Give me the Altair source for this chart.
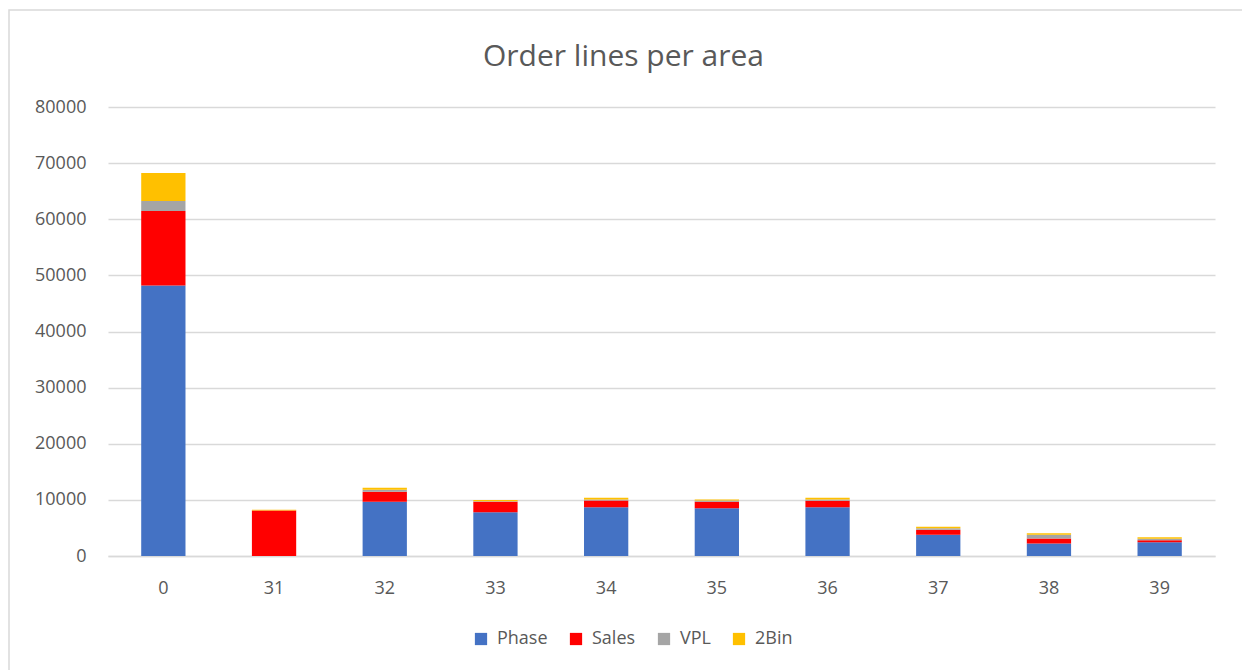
import altair as alt
import pandas as pd

areas = ["0", "31", "32", "33", "34", "35", "36", "37", "38", "39"]
series = ["Phase", "Sales", "VPL", "2Bin"]
colors = ["#4472C4", "#FF0000", "#A5A5A5", "#FFC000"]
phase = [48200, 0, 9660, 7810, 8700, 8520, 8700, 3780, 2230, 2460]
sales = [13260, 8100, 1780, 1850, 1190, 1140, 1140, 890, 890, 360]
vpl = [1780, 0, 360, 100, 180, 230, 230, 290, 660, 250]
bin2 = [5000, 150, 350, 200, 300, 180, 300, 240, 290, 280]
y_ticks = [0, 10000, 20000, 30000, 40000, 50000, 60000, 70000, 80000]

rows = []
for i, a in enumerate(areas):
    for k, (s, vals) in enumerate(zip(series, [phase, sales, vpl, bin2])):
        rows.append({"area": a, "series": s, "value": vals[i], "idx": k})
df = pd.DataFrame(rows)

FONT = "Open Sans"
GREY = "#595959"

bars = alt.Chart(df).mark_bar().encode(
    x=alt.X("area:N", sort=areas, title=None,
            scale=alt.Scale(paddingInner=0.6, paddingOuter=0.3),
            axis=alt.Axis(labelAngle=0, ticks=False, domainColor="#d9d9d9",
                          domainWidth=1.5, labelPadding=23, labelFontSize=18,
                          labelColor=GREY, labelFont=FONT, grid=False)),
    y=alt.Y("value:Q", stack="zero", title=None,
            scale=alt.Scale(domain=[0, 80000], nice=False),
            axis=alt.Axis(values=y_ticks, format="d", ticks=False, domain=False,
                          labelPadding=22, labelFontSize=18, labelColor=GREY,
                          labelFont=FONT, gridColor="#d9d9d9", gridWidth=1.5)),
    color=alt.Color("series:N", sort=series,
                    scale=alt.Scale(domain=series, range=colors),
                    legend=alt.Legend(title=None, orient="none", direction="horizontal",
                                      legendX=364, legendY=523, symbolType="square",
                                      symbolSize=150, symbolStrokeWidth=0,
                                      labelFontSize=18, labelColor=GREY, labelFont=FONT,
                                      columnPadding=19, labelOffset=7)),
    order=alt.Order("idx:Q", sort="ascending"),
)

border = alt.Chart(pd.DataFrame({"a": [0]})).mark_rect(
    fill=None, stroke="#d9d9d9", strokeWidth=1.5
).encode(x=alt.value(-99), x2=alt.value(1300), y=alt.value(-97), y2=alt.value(700))

chart = alt.layer(border, bars).properties(
    width=1107, height=449,
    padding={"left": 108, "top": 107, "right": 27, "bottom": 114},
    autosize=alt.AutoSizeParams(type="none"),
    title=alt.TitleParams("Order lines per area", fontSize=30, font=FONT,
                          color=GREY, fontWeight="normal", anchor="middle",
                          offset=0, dy=63, dx=-38),
).configure_view(stroke=None)

chart.save("out.html", embed_options={"renderer": "svg", "actions": False})
